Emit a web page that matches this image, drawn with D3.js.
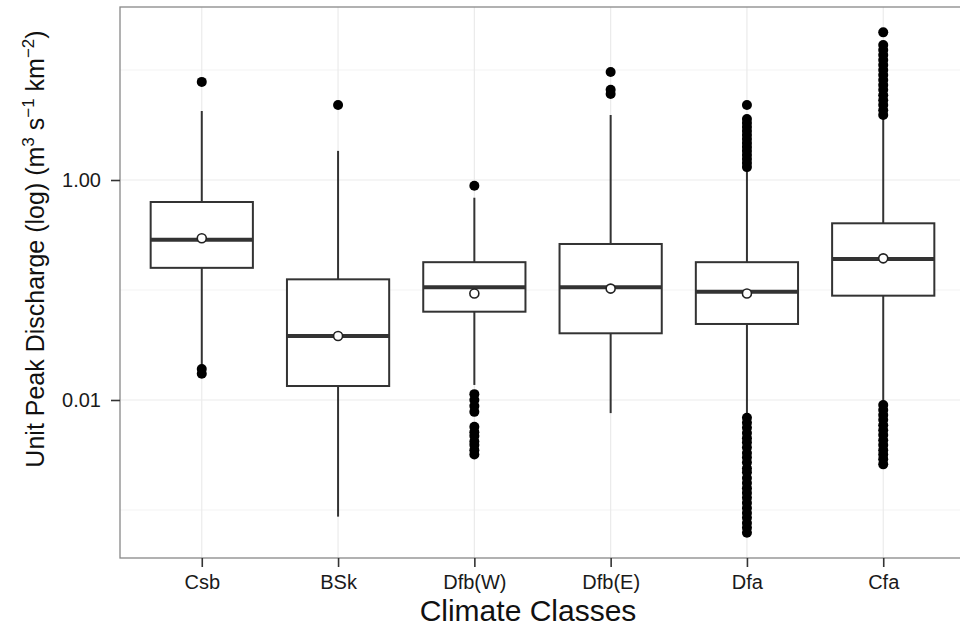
<!DOCTYPE html>
<html lang="en">
<head>
    <meta charset="UTF-8">
    <title>Unit Peak Discharge by Climate Class</title>
    <script src="https://d3js.org/d3.v7.min.js"></script>
    <style>
        body { margin: 0; background: #fff; }
        svg { display: block; font-family: "Liberation Sans", Arial, sans-serif; }
        .grid-major { stroke: #ebebeb; stroke-width: 1.2px; }
        .grid-minor { stroke: #f4f4f4; stroke-width: 1.2px; }
        .box { fill: #fff; stroke: #333; stroke-width: 2px; }
        .whisker { stroke: #333; stroke-width: 2px; }
        .median { stroke: #333; stroke-width: 4px; }
        .mean { fill: #fff; stroke: #222; stroke-width: 1.6px; }
        .outlier { fill: #000; }
        .axis text { font-size: 20px; fill: #1a1a1a; }
        .axis line { stroke: #333; stroke-width: 1.6px; }
        .axis path { display: none; }
        .title { fill: #111; }
    </style>
</head>
<body>
<svg width="960" height="630"></svg>
<script>
    // categories and box statistics
    const categories = ["Csb", "BSk", "Dfb(W)", "Dfb(E)", "Dfa", "Cfa"];
    const whiskerLow  = [0.0208, 0.00087, 0.0137, 0.0076, 0.0073, 0.0096];
    const q1          = [0.159, 0.0134, 0.0635, 0.0404, 0.0491, 0.0888];
    const medians     = [0.286, 0.0382, 0.106, 0.106, 0.0966, 0.191];
    const q3          = [0.631, 0.125, 0.179, 0.262, 0.179, 0.404];
    const whiskerHigh = [4.24, 1.84, 0.69, 3.90, 1.21, 3.66];
    const means       = [0.295, 0.0382, 0.093, 0.103, 0.093, 0.194];

    // outliers per category
    const outliers = [
        [7.8, 0.0191, 0.0173],
        [4.8],
        [0.888, 0.0113, 0.0100, 0.0088, 0.0078, 0.0057, 0.0051, 0.0047, 0.0042, 0.0039, 0.0035, 0.0032],
        [9.6, 6.6, 6.05],
        [4.81, 3.59, 3.30, 3.03, 2.79, 2.57, 2.36, 2.17, 2.00, 1.84, 1.69, 1.55, 1.43, 1.31,
         0.0069, 0.0062, 0.0056, 0.0050, 0.0045, 0.0041, 0.0037, 0.0033, 0.0030, 0.0027,
         0.0024, 0.0022, 0.00195, 0.00176, 0.00158, 0.00143, 0.00129, 0.00116, 0.00104,
         0.00094, 0.00085, 0.00076, 0.00069, 0.00062],
        [22.0, 16.9, 15.2, 13.7, 12.3, 11.1, 10.0, 9.0, 8.1, 7.3, 6.6, 5.9, 5.3, 4.8, 4.3, 3.9,
         0.0090, 0.0081, 0.0073, 0.0066, 0.0059, 0.0053, 0.0048, 0.0043, 0.0039, 0.0035,
         0.0032, 0.0029, 0.0026]
    ];

    const yMajorTicks = [0.01, 1];
    const yTickLabels = ["0.01", "1.00"];
    const yMinorTicks = [0.001, 0.1, 10];

    const svg = d3.select("svg");
    const panel = { left: 120, right: 965, top: 7, bottom: 558 };

    const x = d3.scalePoint()
        .domain(categories)
        .range([panel.left, panel.right])
        .padding(0.6);

    const y = d3.scaleLog()
        .domain([0.000366, 37.4])
        .range([panel.bottom, panel.top]);

    const boxW = x.step() * 0.75;

    // grid
    const grid = svg.append("g");
    grid.selectAll(".grid-minor").data(yMinorTicks).join("line")
        .attr("class", "grid-minor")
        .attr("x1", panel.left).attr("x2", panel.right)
        .attr("y1", d => y(d)).attr("y2", d => y(d));
    grid.selectAll(".grid-h").data(yMajorTicks).join("line")
        .attr("class", "grid-major grid-h")
        .attr("x1", panel.left).attr("x2", panel.right)
        .attr("y1", d => y(d)).attr("y2", d => y(d));
    grid.selectAll(".grid-v").data(categories).join("line")
        .attr("class", "grid-major grid-v")
        .attr("x1", d => x(d)).attr("x2", d => x(d))
        .attr("y1", panel.top).attr("y2", panel.bottom);

    // boxes
    const boxes = svg.append("g")
        .selectAll("g").data(categories).join("g");

    boxes.append("line").attr("class", "whisker")
        .attr("x1", d => x(d)).attr("x2", d => x(d))
        .attr("y1", (d, i) => y(whiskerHigh[i])).attr("y2", (d, i) => y(q3[i]));
    boxes.append("line").attr("class", "whisker")
        .attr("x1", d => x(d)).attr("x2", d => x(d))
        .attr("y1", (d, i) => y(q1[i])).attr("y2", (d, i) => y(whiskerLow[i]));

    boxes.append("rect").attr("class", "box")
        .attr("x", d => x(d) - boxW / 2)
        .attr("width", boxW)
        .attr("y", (d, i) => y(q3[i]))
        .attr("height", (d, i) => y(q1[i]) - y(q3[i]));

    boxes.append("line").attr("class", "median")
        .attr("x1", d => x(d) - boxW / 2).attr("x2", d => x(d) + boxW / 2)
        .attr("y1", (d, i) => y(medians[i])).attr("y2", (d, i) => y(medians[i]));

    boxes.selectAll(".outlier")
        .data((d, i) => outliers[i].map(v => ({ cat: d, v: v })))
        .join("circle").attr("class", "outlier")
        .attr("cx", d => x(d.cat)).attr("cy", d => y(d.v)).attr("r", 5);

    boxes.append("circle").attr("class", "mean")
        .attr("cx", d => x(d)).attr("cy", (d, i) => y(means[i])).attr("r", 4.5);

    // panel border
    svg.append("rect")
        .attr("x", panel.left).attr("y", panel.top)
        .attr("width", panel.right - panel.left).attr("height", panel.bottom - panel.top)
        .attr("fill", "none").attr("stroke", "#888").attr("stroke-width", 1.3);

    // axes
    svg.append("g").attr("class", "axis")
        .attr("transform", "translate(" + panel.left + ",0)")
        .call(d3.axisLeft(y).tickValues(yMajorTicks)
            .tickFormat((d, i) => yTickLabels[i]).tickSize(9).tickPadding(10));

    svg.append("g").attr("class", "axis")
        .attr("transform", "translate(0," + panel.bottom + ")")
        .call(d3.axisBottom(x).tickSize(9).tickPadding(8));

    // titles
    svg.append("text").attr("class", "title")
        .attr("x", 528).attr("y", 621)
        .style("font-size", "30px")
        .attr("text-anchor", "middle")
        .text("Climate Classes");

    const yt = svg.append("text").attr("class", "title")
        .style("font-size", "25px")
        .attr("transform", "translate(44,249) rotate(-90)")
        .attr("text-anchor", "middle");
    yt.append("tspan").text("Unit Peak Discharge (log) (m");
    yt.append("tspan").style("font-size", "17px").attr("dy", -10).text("3");
    yt.append("tspan").attr("dy", 10).text(" s");
    yt.append("tspan").style("font-size", "17px").attr("dy", -10).text("\u22121");
    yt.append("tspan").attr("dy", 10).text(" km");
    yt.append("tspan").style("font-size", "17px").attr("dy", -10).text("\u22122");
    yt.append("tspan").attr("dy", 10).text(")");
</script>
</body>
</html>
